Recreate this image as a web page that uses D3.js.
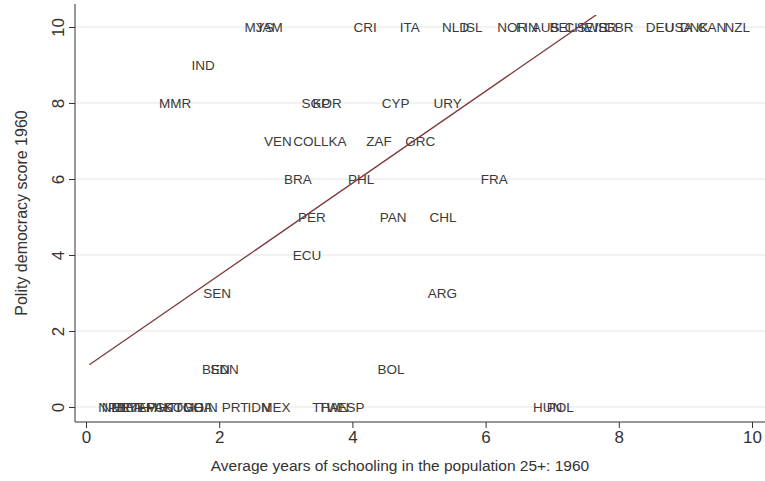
<!DOCTYPE html>
<html>
<head>
<meta charset="utf-8">
<script src="https://cdn.jsdelivr.net/npm/d3@7"></script>
<style>
  body { margin: 0; background: #fff; }
  svg { display: block; font-family: "Liberation Sans", Arial, sans-serif; }
</style>
</head>
<body>
<div id="chart"></div>
<script>
// country codes with schooling (x) and polity score (y)
const codes = [
  'MYS','JAM','CRI','ITA','NLD','ISL','NOR','FIN','AUS','BEL','CHE','SWE','ISR','GBR','DEU','USA','DNK','CAN','NZL',
  'IND',
  'MMR','SGP','KOR','CYP','URY',
  'VEN','COL','LKA','ZAF','GRC',
  'BRA','PHL','FRA',
  'PER','PAN','CHL',
  'ECU',
  'SEN','ARG',
  'BEN','SDN','BOL',
  'NPL','NER','MLI','BFA','ETH','YEM','AFG','PAK','HTI','SOM','TGO','GHA','GIN',
  'PRT','IDN','MEX','THA','TWN','ESP','HUN','POL'
];
const schooling = [
  2.6, 2.75, 4.19, 4.86, 5.55, 5.8, 6.4, 6.62, 6.9, 7.15, 7.4, 7.6, 7.8, 8.0, 8.62, 8.9, 9.13, 9.4, 9.78,
  1.76,
  1.34, 3.45, 3.62, 4.65, 5.43,
  2.88, 3.32, 3.72, 4.4, 5.02,
  3.18, 4.13, 6.13,
  3.39, 4.61, 5.36,
  3.32,
  1.97, 5.35,
  1.95, 2.08, 4.58,
  0.38, 0.45, 0.55, 0.65, 0.75, 0.85, 0.98, 1.1, 1.25, 1.4, 1.55, 1.68, 1.8,
  2.24, 2.6, 2.85, 3.6, 3.72, 3.98, 6.93, 7.12
];
const polity = [
  10, 10, 10, 10, 10, 10, 10, 10, 10, 10, 10, 10, 10, 10, 10, 10, 10, 10, 10,
  9,
  8, 8, 8, 8, 8,
  7, 7, 7, 7, 7,
  6, 6, 6,
  5, 5, 5,
  4,
  3, 3,
  1, 1, 1,
  0, 0, 0, 0, 0, 0, 0, 0, 0, 0, 0, 0, 0,
  0, 0, 0, 0, 0, 0, 0, 0
];
const xTicks = [0, 2, 4, 6, 8, 10];
const yTicks = [0, 2, 4, 6, 8, 10];
// linear fit as drawn in the picture
const fitIntercept = 1.05;
const fitSlope = 1.21;
const fitRange = [0.05, 9.8];

const xTitle = 'Average years of schooling in the population 25+: 1960';
const yTitle = 'Polity democracy score 1960';

const width = 765, height = 481;
const axisX = 75, axisY = 422, plotTop = 4;

const svg = d3.select('#chart').append('svg')
  .attr('width', width)
  .attr('height', height);

const x = d3.scaleLinear().domain([0, 10]).range([86, 752]);
const y = d3.scaleLinear().domain([0, 10]).range([407, 27]);

// horizontal grid
svg.append('g')
  .selectAll('line')
  .data(yTicks)
  .enter().append('line')
  .attr('x1', axisX).attr('x2', width)
  .attr('y1', d => y(d)).attr('y2', d => y(d))
  .attr('stroke', '#e6e6e6')
  .attr('stroke-width', 1.2);

// clip for fit line
svg.append('clipPath').attr('id', 'plotclip')
  .append('rect')
  .attr('x', axisX).attr('y', 15)
  .attr('width', width - axisX).attr('height', axisY - 15);

const rows = codes.map((c, i) => ({ code: c, x: schooling[i], y: polity[i] }));

// labels centred on their points
svg.append('g')
  .selectAll('text')
  .data(rows)
  .enter().append('text')
  .attr('x', d => x(d.x))
  .attr('y', d => y(d.y))
  .attr('text-anchor', 'middle')
  .attr('dominant-baseline', 'central')
  .attr('font-size', 13.5)
  .attr('fill', '#3a3a3a')
  .text(d => d.code);

// fitted line
const fit = fitRange.map(v => [v, fitIntercept + fitSlope * v]);
svg.append('path')
  .datum(fit)
  .attr('clip-path', 'url(#plotclip)')
  .attr('d', d3.line().x(d => x(d[0])).y(d => y(d[1])))
  .attr('fill', 'none')
  .attr('stroke', '#7d3a3a')
  .attr('stroke-width', 1.3);

// axes
const xAxis = svg.append('g')
  .attr('transform', `translate(0,${axisY})`)
  .call(d3.axisBottom(x).tickValues(xTicks).tickSize(6).tickPadding(3).tickFormat(d3.format('d')));
xAxis.select('.domain').attr('d', `M${axisX},0H${width}`);
xAxis.selectAll('text').attr('font-size', 17).attr('fill', '#333').attr('font-family', '"Liberation Sans", Arial, sans-serif');

const yAxis = svg.append('g')
  .attr('transform', `translate(${axisX},0)`)
  .call(d3.axisLeft(y).tickValues(yTicks).tickSize(6).tickPadding(3).tickFormat(d3.format('d')));
yAxis.select('.domain').attr('d', `M0,${plotTop}V${axisY}`);
yAxis.selectAll('text')
  .attr('font-size', 17).attr('fill', '#333')
  .attr('font-family', '"Liberation Sans", Arial, sans-serif')
  .attr('text-anchor', 'middle')
  .attr('dy', null)
  .attr('x', null)
  .attr('y', null)
  .attr('dominant-baseline', 'central')
  .attr('transform', 'translate(-17,0) rotate(-90)');
svg.selectAll('.tick line').attr('stroke', '#333');
svg.selectAll('.domain').attr('stroke', '#333');

// titles
svg.append('text')
  .attr('x', 400).attr('y', 471)
  .attr('text-anchor', 'middle')
  .attr('font-size', 15.5)
  .attr('fill', '#333')
  .text(xTitle);

svg.append('text')
  .attr('transform', `translate(27,${(plotTop + axisY) / 2}) rotate(-90)`)
  .attr('text-anchor', 'middle')
  .attr('font-size', 16)
  .attr('fill', '#333')
  .text(yTitle);
</script>
</body>
</html>
